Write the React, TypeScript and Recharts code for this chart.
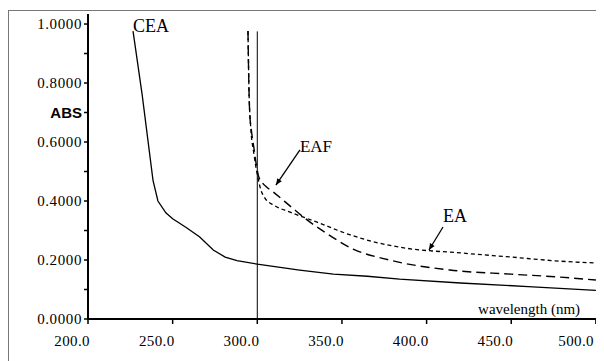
import React from "react";
import {
  LineChart,
  Line,
  XAxis,
  YAxis,
  ReferenceLine,
  ReferenceDot,
} from "recharts";

// wavelength (nm) / absorbance
const ceaNm = [226.6, 232, 238.4, 241.3, 246, 250, 258, 266, 274, 281, 288, 300, 325, 345, 365, 384, 420, 460, 500];
const ceaAbs = [0.976, 0.76, 0.47, 0.4, 0.36, 0.34, 0.31, 0.278, 0.234, 0.21, 0.198, 0.186, 0.166, 0.152, 0.145, 0.135, 0.122, 0.11, 0.097];

const eafNm = [294.5, 295, 295.5, 296.5, 298, 299.5, 301, 305, 309.5, 320, 329.4, 341, 356.6, 378, 413.8, 450, 479, 500];
const eafAbs = [0.976, 0.8, 0.7, 0.64, 0.58, 0.52, 0.48, 0.45, 0.43, 0.38, 0.336, 0.29, 0.237, 0.2, 0.166, 0.152, 0.142, 0.132];

const eaNm = [294.5, 295, 296, 298, 300, 302, 304.5, 310, 319, 335, 355, 370, 388, 420, 450, 479, 500];
const eaAbs = [0.976, 0.8, 0.66, 0.56, 0.49, 0.44, 0.41, 0.385, 0.363, 0.329, 0.285, 0.26, 0.24, 0.224, 0.21, 0.196, 0.19];

const xTicks = [200, 250, 300, 350, 400, 450, 500];
const yTicks = [0, 0.1, 0.2, 0.3, 0.4, 0.5, 0.6, 0.7, 0.8, 0.9, 1.0];

const toRows = (nm: number[], abs: number[]) => nm.map((x, i) => ({ nm: x, abs: abs[i] }));
const cea = toRows(ceaNm, ceaAbs);
const eaf = toRows(eafNm, eafAbs);
const ea = toRows(eaNm, eaAbs);

const SERIF = "'Liberation Serif', 'Times New Roman', serif";

function YTick({ x, y, payload }: any) {
  const v = payload.value;
  const i = Math.round(v * 10);
  if (i === 7) {
    return (
      <text x={x} y={y} dy={5} textAnchor="end" fontFamily="'Liberation Sans', Arial, sans-serif" fontWeight="bold" fontSize={15} fill="#000">
        ABS
      </text>
    );
  }
  if (i % 2 !== 0) return null;
  return (
    <text x={x} y={y} dy={5} textAnchor="end" fontFamily={SERIF} fontSize={15} letterSpacing={0.6} fill="#000">
      {v.toFixed(4)}
    </text>
  );
}

function XTick({ x, y, payload }: any) {
  return (
    <text x={x + 2} y={y + 20} textAnchor="end" fontFamily={SERIF} fontSize={15} letterSpacing={0.4} fill="#000">
      {payload.value.toFixed(1)}
    </text>
  );
}

const textAt = (label: string, size: number) => (p: any) => (
  <text x={p.cx} y={p.cy} fontFamily={SERIF} fontSize={size} fill="#000">
    {label}
  </text>
);

const arrow = (p: any) => {
  const { x1, y1, x2, y2 } = p;
  const a = Math.atan2(y2 - y1, x2 - x1);
  const L = 7;
  const w = 0.4;
  return (
    <g>
      <line x1={x1} y1={y1} x2={x2} y2={y2} stroke="#000" strokeWidth={1.3} />
      <polygon
        points={`${x2},${y2} ${x2 - L * Math.cos(a - w)},${y2 - L * Math.sin(a - w)} ${x2 - L * Math.cos(a + w)},${y2 - L * Math.sin(a + w)}`}
        fill="#000"
      />
    </g>
  );
};

export default function App() {
  return (
    <div
      style={{
        width: 596,
        height: 351,
        marginTop: 2,
        borderLeft: "1px solid #777",
        borderTop: "1px solid #777",
        background: "#fff",
      }}
    >
      <LineChart width={595} height={350} margin={{ top: 3, right: 1, bottom: 0, left: 0 }}>
        <XAxis
          dataKey="nm"
          type="number"
          domain={[200, 504.2]}
          ticks={xTicks}
          allowDataOverflow
          height={42}
          tickSize={5}
          tick={<XTick />}
          axisLine={{ stroke: "#000", strokeWidth: 2 }}
          tickLine={{ stroke: "#000", strokeWidth: 1.5 }}
        />
        <YAxis
          type="number"
          domain={[0, 1.034]}
          ticks={yTicks}
          allowDataOverflow
          width={79}
          tickSize={4}
          tick={<YTick />}
          axisLine={{ stroke: "#000", strokeWidth: 2 }}
          tickLine={{ stroke: "#000", strokeWidth: 1.5 }}
        />
        <ReferenceLine
          segment={[{ x: 300, y: 0 }, { x: 300, y: 0.975 }]}
          stroke="#000"
          strokeWidth={1}
        />
        <Line data={cea} dataKey="abs" type="linear" stroke="#000" strokeWidth={1.3} dot={false} isAnimationActive={false} />
        <Line data={eaf} dataKey="abs" type="monotone" stroke="#000" strokeWidth={1.4} strokeDasharray="9 5" dot={false} isAnimationActive={false} />
        <Line data={ea} dataKey="abs" type="monotone" stroke="#000" strokeWidth={1.3} strokeDasharray="4 3" dot={false} isAnimationActive={false} />
        <ReferenceLine segment={[{ x: 325.2, y: 0.573 }, { x: 311, y: 0.454 }]} shape={arrow} />
        <ReferenceLine segment={[{ x: 409.7, y: 0.312 }, { x: 401.4, y: 0.234 }]} shape={arrow} />
        <ReferenceDot x={226.6} y={0.973} r={0} shape={textAt("CEA", 18)} />
        <ReferenceDot x={325.2} y={0.566} r={0} shape={textAt("EAF", 17)} />
        <ReferenceDot x={409.7} y={0.329} r={0} shape={textAt("EA", 18)} />
        <ReferenceDot x={430.4} y={0.017} r={0} shape={textAt("wavelength (nm)", 15)} />
      </LineChart>
    </div>
  );
}
